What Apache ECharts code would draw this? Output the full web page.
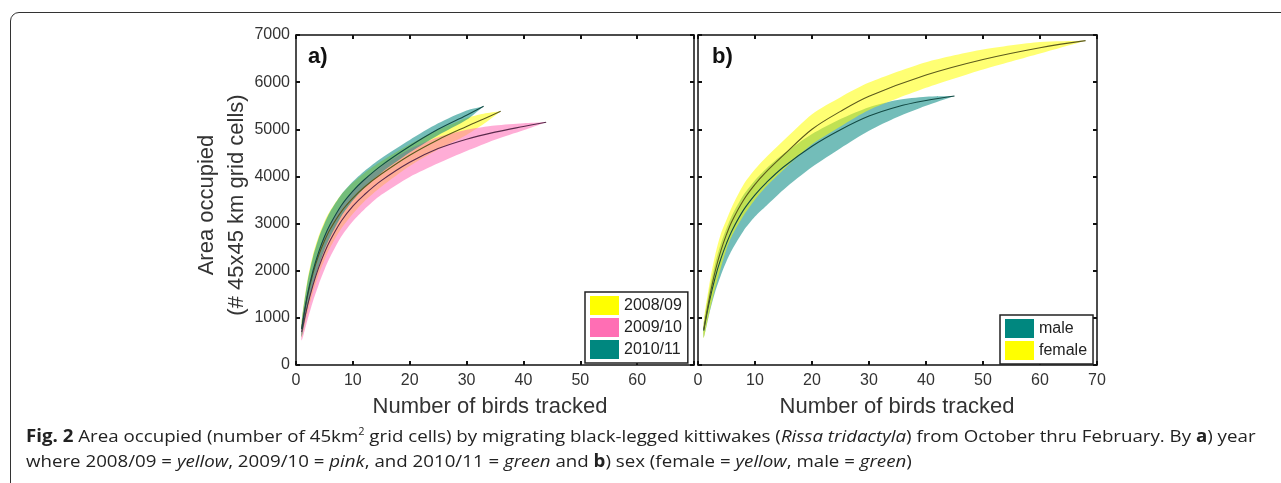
<!DOCTYPE html>
<html>
<head>
<meta charset="utf-8">
<script src="https://cdn.jsdelivr.net/npm/echarts@6/dist/echarts.min.js"></script>
<style>
  html, body { margin: 0; padding: 0; background: #fff; }
  #frame { position: absolute; left: 10px; top: 12px; width: 1300px; height: 500px;
           border: 1.5px solid #333; border-radius: 9px; box-sizing: border-box; }
  #chart { position: absolute; left: 0; top: 0; width: 1281px; height: 483px; }
  #caption { position: absolute; left: 26px; top: 423px; width: 1150px;
             font-family: "Open Sans", sans-serif; font-size: 17px; line-height: 25px;
             color: #222; white-space: nowrap; transform: scaleX(1.1); transform-origin: 0 0; }
  #caption b { font-weight: 700; }
  #caption sup { font-size: 10px; line-height: 0; vertical-align: 7px; }
</style>
</head>
<body>
<div id="frame"></div>
<div id="chart"></div>
<div id="caption"><b>Fig. 2</b> Area occupied (number of 45km<sup>2</sup> grid cells) by migrating black-legged kittiwakes (<i>Rissa tridactyla</i>) from October thru February. By <b>a</b>) year<br>where 2008/09 = <i>yellow</i>, 2009/10 = <i>pink</i>, and 2010/11 = <i>green</i> and <b>b</b>) sex (female = <i>yellow</i>, male = <i>green</i>)</div>
<script>
// panel a) by year
var yearNames = ['2008/09', '2009/10', '2010/11'];

var x0809 = [1, 2, 3, 4, 5, 6, 8, 10, 12, 15, 20, 25, 30, 33, 36];
var mean0809 = [770, 1450, 1950, 2330, 2630, 2880, 3260, 3540, 3770, 4050, 4450, 4780, 5060, 5220, 5380];
var up0809 = [950, 1800, 2350, 2740, 3040, 3270, 3620, 3870, 4070, 4320, 4680, 4990, 5240, 5330, 5380];
var low0809 = [590, 1100, 1550, 1920, 2220, 2490, 2900, 3210, 3470, 3780, 4220, 4570, 4880, 5110, 5380];

var x0910 = [1, 2, 3, 4, 5, 6, 8, 10, 12, 15, 20, 25, 30, 35, 40, 44];
var mean0910 = [700, 1250, 1700, 2070, 2380, 2640, 3060, 3370, 3610, 3910, 4300, 4590, 4790, 4940, 5060, 5150];
var up0910 = [880, 1550, 2050, 2430, 2740, 3000, 3400, 3700, 3930, 4210, 4580, 4830, 4990, 5080, 5130, 5150];
var low0910 = [520, 950, 1360, 1710, 2020, 2290, 2730, 3050, 3300, 3610, 3990, 4280, 4540, 4780, 4980, 5150];

var x1011 = [1, 2, 3, 4, 5, 6, 8, 10, 12, 15, 20, 25, 30, 33];
var mean1011 = [760, 1480, 2000, 2400, 2720, 2980, 3390, 3690, 3930, 4230, 4640, 5000, 5300, 5490];
var up1011 = [920, 1750, 2300, 2700, 3000, 3250, 3620, 3890, 4110, 4385, 4774, 5127, 5400, 5490];
var low1011 = [600, 1210, 1700, 2100, 2440, 2710, 3160, 3490, 3750, 4075, 4506, 4873, 5200, 5490];

// panel b) by sex
var sexNames = ['male', 'female'];

var xMale = [1, 2, 3, 4, 5, 6, 8, 10, 12, 15, 20, 25, 30, 35, 40, 45];
var meanMale = [730, 1350, 1850, 2250, 2580, 2860, 3290, 3610, 3870, 4200, 4640, 4990, 5280, 5480, 5610, 5706];
var upMale = [880, 1600, 2150, 2570, 2900, 3180, 3610, 3920, 4170, 4480, 4900, 5220, 5470, 5620, 5690, 5706];
var lowMale = [580, 1100, 1550, 1900, 2200, 2450, 2850, 3150, 3380, 3720, 4200, 4600, 4970, 5260, 5500, 5706];

var xFemale = [1, 2, 3, 4, 5, 6, 8, 10, 12, 15, 20, 25, 30, 40, 50, 60, 68];
var meanFemale = [750, 1420, 1980, 2420, 2770, 3060, 3500, 3830, 4100, 4450, 5000, 5380, 5700, 6150, 6480, 6730, 6880];
var upFemale = [930, 1720, 2330, 2780, 3080, 3370, 3830, 4150, 4410, 4760, 5320, 5680, 5990, 6420, 6690, 6850, 6880];
var lowFemale = [570, 1120, 1630, 2060, 2460, 2750, 3170, 3510, 3790, 4140, 4680, 5060, 5410, 5880, 6270, 6610, 6880];

var xTicks = [0, 10, 20, 30, 40, 50, 60, 70];
var yTicks = [0, 1000, 2000, 3000, 4000, 5000, 6000, 7000];

var YELLOW = '#ffff00', PINK = '#ff6eb4', TEAL = '#00877f';
var FONT = 'Liberation Sans';

var chart = echarts.init(document.getElementById('chart'));

function toPairs(xs, ys) {
    var out = [];
    for (var i = 0; i < xs.length; i++) out.push([xs[i], ys[i]]);
    return out;
}

function band(name, grid, xs, low, up, fill) {
    var data = [];
    for (var i = 0; i < xs.length; i++) data.push([xs[i], low[i], up[i]]);
    return {
        type: 'custom', name: name, xAxisIndex: grid * 2, yAxisIndex: grid * 2, z: 2,
        data: data,
        encode: {x: 0, y: [1, 2]},
        silent: true,
        renderItem: function (params, api) {
            if (params.dataIndex !== 0) return null;
            var pts = [];
            for (var i = 0; i < xs.length; i++) pts.push(api.coord([xs[i], up[i]]));
            for (var j = xs.length - 1; j >= 0; j--) pts.push(api.coord([xs[j], low[j]]));
            return {type: 'polygon', shape: {points: pts, smooth: 0.25}, style: {fill: fill, stroke: null}};
        }
    };
}

function meanLine(grid, xs, ys, color) {
    return {
        type: 'line', xAxisIndex: grid * 2, yAxisIndex: grid * 2, z: 3,
        data: toPairs(xs, ys), smooth: 0.35, symbol: 'none', silent: true,
        lineStyle: {color: color, width: 1.1}
    };
}

function axisBase(grid, max, step) {
    return {
        type: 'value', gridIndex: grid, min: 0, max: max, interval: step,
        axisLine: {onZero: false, lineStyle: {color: '#111', width: 1.5}},
        axisTick: {inside: true, length: 4, lineStyle: {color: '#111', width: 2}},
        splitLine: {show: false}
    };
}

function xAxes(grid, hideLast) {
    var bottom = axisBase(grid, 70, 10);
    bottom.position = 'bottom';
    bottom.axisLabel = {
        color: '#333', fontFamily: FONT, fontSize: 16, margin: 8,
        formatter: function (v) { return (hideLast && v === 70) ? '' : String(v); }
    };
    var top = axisBase(grid, 70, 10);
    top.position = 'top';
    top.axisLabel = {show: false};
    return [bottom, top];
}

function yAxes(grid, showLabels) {
    var left = axisBase(grid, 7000, 1000);
    left.position = 'left';
    left.axisLabel = {show: showLabels, color: '#333', fontFamily: FONT, fontSize: 16, margin: 6,
        formatter: function (v) { return String(v); }};
    var right = axisBase(grid, 7000, 1000);
    right.position = 'right';
    right.axisLabel = {show: false};
    return [left, right];
}

var legendText = {color: '#222', fontFamily: FONT, fontSize: 16};

var option = {
    animation: false,
    backgroundColor: 'transparent',
    grid: [
        {left: 296, top: 35, width: 398, height: 330},
        {left: 698, top: 35, width: 399, height: 330}
    ],
    xAxis: xAxes(0, true).concat(xAxes(1, false)),
    yAxis: yAxes(0, true).concat(yAxes(1, false)),
    legend: [
        {
            orient: 'vertical', left: 585, top: 292, itemWidth: 29, itemHeight: 19, itemGap: 3,
            padding: [4, 6, 4, 5], borderColor: '#222', borderWidth: 1.5, backgroundColor: '#fff',
            textStyle: legendText, selectedMode: false,
            data: [
                {name: yearNames[0], icon: 'rect', itemStyle: {color: YELLOW}},
                {name: yearNames[1], icon: 'rect', itemStyle: {color: PINK}},
                {name: yearNames[2], icon: 'rect', itemStyle: {color: TEAL}}
            ]
        },
        {
            orient: 'vertical', left: 1000, top: 315, itemWidth: 29, itemHeight: 19, itemGap: 3,
            padding: [4, 6, 4, 5], borderColor: '#222', borderWidth: 1.5, backgroundColor: '#fff',
            textStyle: legendText, selectedMode: false,
            data: [
                {name: sexNames[0], icon: 'rect', itemStyle: {color: TEAL}},
                {name: sexNames[1], icon: 'rect', itemStyle: {color: YELLOW}}
            ]
        }
    ],
    graphic: [
        {type: 'text', left: 308, top: 46, style: {text: 'a)', font: 'bold 22px "Liberation Sans"', fill: '#111'}},
        {type: 'text', left: 712, top: 46, style: {text: 'b)', font: 'bold 22px "Liberation Sans"', fill: '#111'}},
        {type: 'text', x: 490, y: 407, style: {text: 'Number of birds tracked', font: '22px "Liberation Sans"',
            fill: '#333', align: 'center', verticalAlign: 'middle'}},
        {type: 'text', x: 897, y: 407, style: {text: 'Number of birds tracked', font: '22px "Liberation Sans"',
            fill: '#333', align: 'center', verticalAlign: 'middle'}},
        {type: 'text', x: 207, y: 205, rotation: Math.PI / 2, style: {text: 'Area occupied',
            font: '22px "Liberation Sans"', fill: '#333', align: 'center', verticalAlign: 'middle'}},
        {type: 'text', x: 237, y: 205, rotation: Math.PI / 2, style: {text: '(# 45x45 km grid cells)',
            font: '22px "Liberation Sans"', fill: '#333', align: 'center', verticalAlign: 'middle'}}
    ],
    series: [
        band(yearNames[0], 0, x0809, low0809, up0809, 'rgba(255,255,0,0.55)'),
        band(yearNames[1], 0, x0910, low0910, up0910, 'rgba(255,105,180,0.55)'),
        band(yearNames[2], 0, x1011, low1011, up1011, 'rgba(0,135,128,0.55)'),
        meanLine(0, x0809, mean0809, '#5c5a1c'),
        meanLine(0, x0910, mean0910, '#5a2a4c'),
        meanLine(0, x1011, mean1011, '#124a44'),
        band(sexNames[0], 1, xMale, lowMale, upMale, 'rgba(0,135,128,0.55)'),
        band(sexNames[1], 1, xFemale, lowFemale, upFemale, 'rgba(255,255,0,0.55)'),
        meanLine(1, xMale, meanMale, '#124a44'),
        meanLine(1, xFemale, meanFemale, '#5c5a1c')
    ]
};

chart.setOption(option);
</script>
</body>
</html>
